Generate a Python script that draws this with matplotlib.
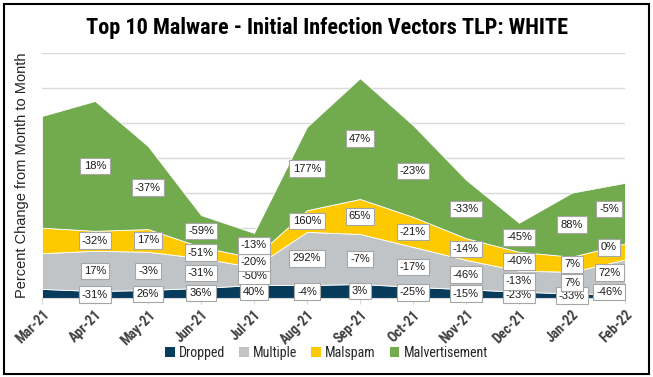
import matplotlib
matplotlib.use("Agg")
import matplotlib.pyplot as plt
from matplotlib.patches import Patch, Rectangle
import numpy as np

COND = ['Roboto Condensed', 'IBM Plex Sans Condensed', 'DejaVu Sans']
REG = ['Liberation Sans', 'DejaVu Sans']
plt.rcParams['font.family'] = COND

months = ["Mar-21", "Apr-21", "May-21", "Jun-21", "Jul-21", "Aug-21", "Sep-21",
          "Oct-21", "Nov-21", "Dec-21", "Jan-22", "Feb-22"]
series_names = ["Dropped", "Multiple", "Malspam", "Malvertisement"]
dropped = [2.6, 2.0, 2.3, 2.9, 3.7, 3.7, 4.0, 3.2, 2.5, 1.8, 1.3, 1.1]
multiple = [10.2, 11.5, 10.9, 8.5, 5.1, 15.2, 14.3, 11.4, 8.4, 6.0, 6.2, 9.9]
malspam = [7.3, 5.7, 6.5, 3.2, 2.7, 6.2, 10.0, 8.6, 6.2, 5.4, 4.3, 4.6]
malvert = [31.9, 37.1, 23.7, 9.1, 7.1, 23.8, 34.5, 26.2, 16.7, 8.3, 18.3, 17.3]

lbl_dropped = ["-31%", "26%", "36%", "40%", "-4%", "3%", "-25%", "-15%", "-23%", "-33%", "-46%"]
lbl_multiple = ["17%", "-3%", "-31%", "-50%", "292%", "-7%", "-17%", "-46%", "-13%", "7%", "72%"]
lbl_malspam = ["-32%", "17%", "-51%", "-20%", "160%", "65%", "-21%", "-14%", "-40%", "7%", "0%"]
lbl_malvert = ["18%", "-37%", "-59%", "-13%", "177%", "47%", "-23%", "-33%", "-45%", "88%", "-5%"]

colors = ["#073b5c", "#c1c4c6", "#ffc900", "#72aa4e"]

fig = plt.figure(figsize=(6.53, 3.77), dpi=100)
ax = fig.add_axes([0.0643, 0.2095, 0.8928, 0.6499])

x = np.arange(len(months))
data = [dropped, multiple, malspam, malvert]
ax.stackplot(x, *data, colors=colors, edgecolor="white", linewidth=0.6, zorder=2)

ax.set_xlim(0, len(months) - 1)
ax.set_ylim(0, 70)
ax.set_yticks(np.arange(0, 71, 10))
ax.set_yticklabels([])
ax.tick_params(axis='y', length=0)
ax.yaxis.grid(True, color="#d9d9d9", linewidth=1.0, zorder=0)
ax.set_axisbelow(True)
for s in ["top", "right", "left"]:
    ax.spines[s].set_visible(False)
ax.spines["bottom"].set_color("#d9d9d9")
ax.spines["bottom"].set_zorder(3)

ax.set_xticks(x)
ax.set_xticklabels(months, rotation=45, ha="right", rotation_mode="anchor",
                   fontsize=10, fontweight="bold", color="#404040")
ax.tick_params(axis='x', length=4, color="#d9d9d9", pad=3)

ax.set_ylabel("Percent Change from Month to Month", fontsize=10.5, color="#262626",
              family=REG, labelpad=6)

# labels
cum = np.zeros(len(months))
labels_all = [lbl_dropped, lbl_multiple, lbl_malspam, lbl_malvert]
for vals, lbls in zip(data, labels_all):
    vals = np.array(vals)
    centers = cum + vals / 2
    for i, lab in enumerate(lbls):
        idx = i + 1
        last = idx == len(months) - 1
        xp = idx - (0.3 if last else 0)
        yp = centers[idx] + (1.2 if last else 0)
        ax.text(xp, yp, lab, ha="center", va="center", fontsize=8,
                family=REG, color="#1a1a1a", zorder=5,
                bbox=dict(boxstyle="square,pad=0.3", fc="white", ec="#a6a6a6", lw=0.8))
    cum = cum + vals

fig.text(0.5, 0.925, "Top 10 Malware - Initial Infection Vectors TLP: WHITE",
         ha="center", va="center", fontsize=16, fontweight="bold", color="#000000")

handles = [Patch(facecolor=c, edgecolor="none") for c in colors]
fig.legend(handles, series_names, loc="center", bbox_to_anchor=(0.5, 0.064), ncol=4,
           frameon=False, handlelength=0.7, handleheight=0.7,
           handletextpad=0.3, columnspacing=1.0, labelcolor="#262626",
           prop=dict(family=COND, size=10))

fig.patches.append(Rectangle((0.006, 0.008), 0.988, 0.982, transform=fig.transFigure,
                             fill=False, edgecolor="black", linewidth=1.5))

fig.savefig("out.png", dpi=100)
